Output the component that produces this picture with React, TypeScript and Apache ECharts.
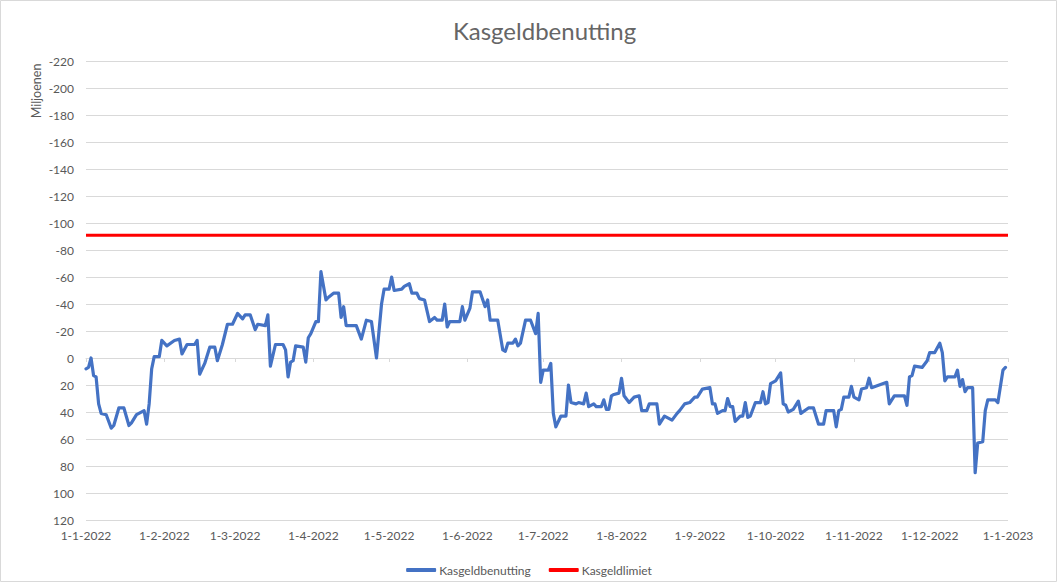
import { useEffect, useRef } from 'react';
import * as echarts from 'echarts';

// ─── Data ─────────────────────────────────────────────────────────────────────

const dates = [
  '2022-01-01', '2022-01-02', '2022-01-03', '2022-01-04', '2022-01-05', '2022-01-06', '2022-01-07',
  '2022-01-09', '2022-01-11', '2022-01-12', '2022-01-14', '2022-01-16', '2022-01-18', '2022-01-19',
  '2022-01-21', '2022-01-24', '2022-01-25', '2022-01-26', '2022-01-27', '2022-01-28', '2022-01-30',
  '2022-01-31',
  '2022-02-02', '2022-02-05', '2022-02-07', '2022-02-08', '2022-02-10', '2022-02-13', '2022-02-14',
  '2022-02-15', '2022-02-17', '2022-02-19', '2022-02-21', '2022-02-22', '2022-02-24', '2022-02-26',
  '2022-02-28',
  '2022-03-02', '2022-03-04', '2022-03-05', '2022-03-07', '2022-03-09', '2022-03-10', '2022-03-13',
  '2022-03-14', '2022-03-15', '2022-03-17', '2022-03-20', '2022-03-21', '2022-03-22', '2022-03-23',
  '2022-03-24', '2022-03-25', '2022-03-28', '2022-03-29', '2022-03-30', '2022-03-31',
  '2022-04-02', '2022-04-03', '2022-04-04', '2022-04-06', '2022-04-07', '2022-04-09', '2022-04-11',
  '2022-04-12', '2022-04-13', '2022-04-14', '2022-04-18', '2022-04-20', '2022-04-22', '2022-04-24',
  '2022-04-26', '2022-04-28', '2022-04-29',
  '2022-05-01', '2022-05-02', '2022-05-03', '2022-05-06', '2022-05-07', '2022-05-09', '2022-05-10',
  '2022-05-12', '2022-05-13', '2022-05-15', '2022-05-17', '2022-05-19', '2022-05-20', '2022-05-22',
  '2022-05-23', '2022-05-24', '2022-05-25', '2022-05-29', '2022-05-30', '2022-05-31',
  '2022-06-02', '2022-06-03', '2022-06-06', '2022-06-08', '2022-06-09', '2022-06-10', '2022-06-13',
  '2022-06-15', '2022-06-16', '2022-06-17', '2022-06-19', '2022-06-20', '2022-06-21', '2022-06-22',
  '2022-06-24', '2022-06-26', '2022-06-28', '2022-06-29', '2022-06-30',
  '2022-07-01', '2022-07-03', '2022-07-04', '2022-07-05', '2022-07-06', '2022-07-08', '2022-07-10',
  '2022-07-11', '2022-07-12', '2022-07-14', '2022-07-15', '2022-07-17', '2022-07-18', '2022-07-19',
  '2022-07-21', '2022-07-22', '2022-07-24', '2022-07-25', '2022-07-26', '2022-07-27', '2022-07-28',
  '2022-07-29', '2022-07-31',
  '2022-08-01', '2022-08-02', '2022-08-04', '2022-08-06', '2022-08-08', '2022-08-09', '2022-08-11',
  '2022-08-12', '2022-08-15', '2022-08-16', '2022-08-18', '2022-08-21', '2022-08-23', '2022-08-24',
  '2022-08-26', '2022-08-28', '2022-08-30', '2022-08-31',
  '2022-09-02', '2022-09-05', '2022-09-06', '2022-09-07', '2022-09-08', '2022-09-10', '2022-09-11',
  '2022-09-12', '2022-09-13', '2022-09-14', '2022-09-15', '2022-09-17', '2022-09-18', '2022-09-19',
  '2022-09-20', '2022-09-21', '2022-09-23', '2022-09-25', '2022-09-26', '2022-09-27', '2022-09-28',
  '2022-09-29',
  '2022-10-01', '2022-10-03', '2022-10-04', '2022-10-05', '2022-10-06', '2022-10-08', '2022-10-10',
  '2022-10-11', '2022-10-14', '2022-10-16', '2022-10-18', '2022-10-20', '2022-10-21', '2022-10-24',
  '2022-10-25', '2022-10-26', '2022-10-27', '2022-10-28', '2022-10-30', '2022-10-31',
  '2022-11-01', '2022-11-03', '2022-11-04', '2022-11-06', '2022-11-07', '2022-11-08', '2022-11-11',
  '2022-11-14', '2022-11-15', '2022-11-17', '2022-11-21', '2022-11-22', '2022-11-23', '2022-11-24',
  '2022-11-25', '2022-11-28', '2022-11-30',
  '2022-12-01', '2022-12-03', '2022-12-05', '2022-12-06', '2022-12-07', '2022-12-08', '2022-12-11',
  '2022-12-12', '2022-12-13', '2022-12-14', '2022-12-15', '2022-12-16', '2022-12-18', '2022-12-19',
  '2022-12-20', '2022-12-22', '2022-12-23', '2022-12-24', '2022-12-27', '2022-12-28', '2022-12-30',
  '2022-12-31',
];

// Kasgeldbenutting in miljoenen (positive = onder nul op de omgekeerde as)
const usage = [
  8, 7, 0, 13, 14, 34, 41, 42, 52, 50, 37, 37, 50, 48, 42, 39, 49, 34, 8, -1, -1, -13,
  -9, -13, -14, -3, -10, -10, -13, 12, 4, -8, -8, 2, -10, -25, -25,
  -33, -29, -32, -32, -21, -25, -24, -32, 6, -10, -10, -6, 14, 3, 2, -9, -8, 3, -15, -18,
  -27, -27, -64, -43, -45, -48, -48, -30, -38, -24, -24, -14, -28, -27, 0, -40, -51,
  -51, -60, -50, -51, -53, -55, -48, -48, -44, -43, -27, -30, -28, -28, -40, -23, -27, -27, -38, -28,
  -37, -49, -49, -38, -43, -28, -28, -6, -5, -11, -11, -14, -9, -11, -28, -28, -18, -33, 18,
  9, 9, 4, 41, 51, 43, 43, 20, 33, 34, 33, 34, 26, 36, 34, 36, 36, 31, 38, 38, 28, 27, 26,
  15, 28, 33, 29, 28, 39, 39, 34, 34, 49, 43, 46, 41, 39, 34, 33, 29, 29,
  23, 22, 34, 34, 41, 39, 39, 30, 36, 36, 47, 43, 43, 33, 44, 43, 33, 33, 25, 34, 33, 19,
  17, 11, 34, 35, 40, 38, 32, 41, 37, 37, 49, 49, 39, 39, 51, 39, 38, 29, 29, 21,
  29, 31, 23, 22, 15, 22, 20, 18, 34, 28, 28, 35, 14, 13, 6, 7, 2,
  -4, -4, -11, -4, 17, 14, 14, 9, 21, 16, 25, 22, 22, 85, 63, 62, 39, 31, 31, 33, 9, 7,
];

const limitDates = ['2022-01-01', '2023-01-01'];
const limitValues = [-91, -91];

const monthTicks = [
  '2022-01-01', '2022-02-01', '2022-03-01', '2022-04-01', '2022-05-01', '2022-06-01', '2022-07-01',
  '2022-08-01', '2022-09-01', '2022-10-01', '2022-11-01', '2022-12-01', '2023-01-01',
];

// ─── Helpers ──────────────────────────────────────────────────────────────────

const FONT = 'Lato, "Noto Sans", sans-serif';
const GREY_TEXT = '#595959';
const GRID_LINE = '#d9d9d9';

const toTime = (s: string) => {
  const [y, m, d] = s.split('-').map(Number);
  return Date.UTC(y, m - 1, d);
};

const fmtDate = (v: number) => {
  const d = new Date(v);
  return `${d.getUTCDate()}-${d.getUTCMonth() + 1}-${d.getUTCFullYear()}`;
};

function buildOption(): echarts.EChartsOption {
  const tickValues = monthTicks.map(toTime);
  return {
    animation: false,
    backgroundColor: '#ffffff',
    textStyle: { fontFamily: FONT },
    title: {
      text: 'Kasgeldbenutting',
      left: 448,
      top: 13,
      textStyle: { fontFamily: FONT, fontSize: 24, fontWeight: 'normal', color: '#666666' },
    },
    grid: { left: 86, right: 50, top: 61, bottom: 63 },
    legend: {
      data: ['Kasgeldbenutting', 'Kasgeldlimiet'],
      left: 'center',
      top: 559,
      icon: 'roundRect',
      itemWidth: 30,
      itemHeight: 4,
      itemGap: 18,
      textStyle: { fontFamily: FONT, fontSize: 12, color: GREY_TEXT, padding: [0, 0, 0, -2] },
    },
    xAxis: {
      // value axis in milliseconds; month ticks are given explicitly
      type: 'value',
      min: toTime('2022-01-01'),
      max: toTime('2023-01-01'),
      axisLine: { show: true, lineStyle: { color: GRID_LINE, width: 1 } },
      axisTick: { show: true, customValues: tickValues, length: 4, lineStyle: { color: GRID_LINE } },
      splitLine: { show: false },
      axisLabel: {
        customValues: tickValues,
        color: GREY_TEXT,
        fontSize: 12,
        fontFamily: FONT,
        margin: 9,
        hideOverlap: false,
        showMinLabel: true,
        showMaxLabel: true,
        formatter: (v: number) => fmtDate(v),
      },
    },
    yAxis: {
      type: 'value',
      inverse: true,
      min: -220,
      max: 120,
      interval: 20,
      axisLine: { show: false },
      axisTick: { show: false },
      splitLine: { lineStyle: { color: GRID_LINE, width: 1 } },
      axisLabel: { color: GREY_TEXT, fontSize: 12, fontFamily: FONT, margin: 12 },
    },
    graphic: [
      {
        type: 'rect',
        shape: { x: 0.5, y: 0.5, width: 1056, height: 581 },
        style: { fill: 'none', stroke: GRID_LINE, lineWidth: 1 },
        silent: true,
      },
      {
        type: 'text',
        x: 36,
        y: 91,
        rotation: Math.PI / 2,
        style: {
          text: 'Miljoenen',
          fontFamily: FONT,
          fontSize: 12.5,
          fill: GREY_TEXT,
          align: 'center',
          verticalAlign: 'middle',
        },
      },
    ],
    series: [
      {
        name: 'Kasgeldbenutting',
        type: 'line',
        data: dates.map((d, i) => [toTime(d), usage[i]]),
        symbol: 'none',
        lineStyle: { color: '#4472c4', width: 3.2, join: 'round', cap: 'round' },
        itemStyle: { color: '#4472c4' },
        z: 3,
      },
      {
        name: 'Kasgeldlimiet',
        type: 'line',
        data: limitDates.map((d, i) => [toTime(d), limitValues[i]]),
        symbol: 'none',
        lineStyle: { color: '#ff0000', width: 3 },
        itemStyle: { color: '#ff0000' },
        z: 2,
      },
    ],
  };
}

// ─── Component ────────────────────────────────────────────────────────────────

export default function App() {
  const containerRef = useRef<HTMLDivElement>(null);

  useEffect(() => {
    if (!containerRef.current) return;
    const chart = echarts.init(containerRef.current, null, { renderer: 'svg' });
    chart.setOption(buildOption());
    return () => chart.dispose();
  }, []);

  return (
    <div
      ref={containerRef}
      style={{ position: 'fixed', left: 0, top: 0, width: 1058, height: 583, background: '#fff' }}
    />
  );
}
